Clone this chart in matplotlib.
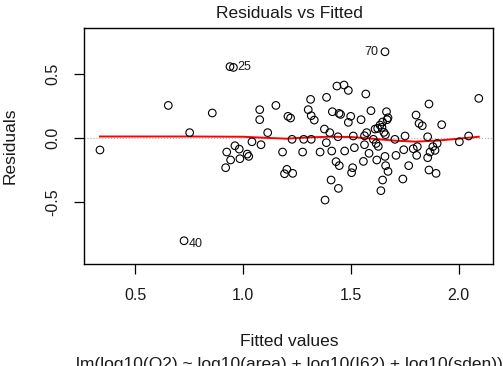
import matplotlib
matplotlib.use("Agg")
from matplotlib import pyplot as plt
import numpy as np

# fitted values and residuals
fitted = [0.336, 0.653, 0.726, 0.752, 0.857, 0.939, 0.955, 0.924, 0.919, 0.942,
          0.962, 0.982, 0.985, 1.019, 1.026, 1.041, 1.077, 1.077, 1.083, 1.114,
          1.152, 1.183, 1.192, 1.203, 1.208, 1.220, 1.227, 1.230, 1.276, 1.281,
          1.302, 1.313, 1.316, 1.330, 1.316, 1.357, 1.377, 1.380, 1.387, 1.386,
          1.402, 1.408, 1.411, 1.414, 1.431, 1.435, 1.440, 1.442, 1.445, 1.452,
          1.446, 1.468, 1.471, 1.488, 1.488, 1.499, 1.503, 1.511, 1.508, 1.516,
          1.547, 1.558, 1.563, 1.563, 1.569, 1.573, 1.584, 1.593, 1.604, 1.612,
          1.617, 1.620, 1.624, 1.627, 1.635, 1.639, 1.644, 1.647, 1.647, 1.653,
          1.658, 1.658, 1.660, 1.661, 1.665, 1.668, 1.672, 1.672, 1.704, 1.709,
          1.741, 1.745, 1.751, 1.768, 1.789, 1.802, 1.805, 1.808, 1.816, 1.831,
          1.856, 1.856, 1.862, 1.862, 1.867, 1.880, 1.890, 1.895, 1.900, 1.921,
          2.003, 2.046, 2.093]
resid = [-0.093, 0.254, -0.800, 0.042, 0.195, 0.556, 0.550, -0.109, -0.231, -0.171,
         -0.060, -0.086, -0.161, -0.125, -0.143, -0.029, 0.221, 0.143, -0.052, 0.042,
         0.254, -0.109, -0.278, -0.244, 0.169, 0.156, -0.010, -0.275, -0.109, -0.010,
         0.221, 0.301, 0.174, 0.140, -0.010, -0.109, 0.070, -0.483, 0.317, -0.036,
         0.042, -0.327, -0.101, 0.205, -0.184, 0.405, 0.010, -0.392, 0.192, 0.184,
         -0.215, 0.413, -0.101, 0.371, 0.122, 0.169, -0.270, 0.016, -0.231, -0.075,
         0.143, -0.182, -0.052, 0.018, 0.343, 0.042, -0.119, 0.213, -0.010, 0.070,
         -0.042, -0.171, 0.075, -0.065, 0.101, -0.410, 0.083, -0.327, 0.125, 0.044,
         0.672, -0.143, 0.026, -0.215, 0.205, 0.143, -0.260, 0.158, -0.010, -0.135,
         -0.319, -0.091, 0.016, -0.215, -0.083, 0.179, -0.135, -0.067, 0.114, 0.096,
         0.010, -0.153, 0.265, -0.249, -0.109, -0.067, -0.096, -0.275, -0.042, 0.104,
         -0.029, 0.016, 0.309]

# red smoother
smooth_x = [0.336, 0.5, 0.75, 1.0, 1.1, 1.2, 1.3, 1.4, 1.5, 1.6, 1.7, 1.8, 1.9, 2.0, 2.093]
smooth_y = [0.012, 0.012, 0.012, 0.010, 0.002, -0.005, 0.005, 0.010, 0.008, -0.005,
            -0.020, -0.028, -0.020, -0.005, 0.010]

# labelled points: (index into the arrays, label, side)
outliers = [(6, '25', 'right'), (2, '40', 'right'), (80, '70', 'left')]

xticks = [0.5, 1.0, 1.5, 2.0]
yticks = [-0.5, 0.0, 0.5]

plt.rcParams['font.family'] = ['Liberation Sans', 'DejaVu Sans']
txt = '#1a1a1a'

fig = plt.figure(figsize=(5.03, 3.66), dpi=100)
ax = fig.add_axes([84 / 503, 1 - 264 / 366, 409 / 503, 236 / 366])

ax.axhline(0, color='0.7', ls=':', lw=0.8, zorder=1)
ax.plot(smooth_x, smooth_y, color='red', lw=1.4, zorder=2)
ax.scatter(fitted, resid, s=30, facecolors='none', edgecolors='black', linewidths=0.8, zorder=3)

for i, lab, side in outliers:
    if side == 'right':
        ax.annotate(lab, (fitted[i], resid[i]), xytext=(3, -2 if resid[i] < 0 else 0),
                    textcoords='offset points', ha='left', va='center', fontsize=9, color=txt)
    else:
        ax.annotate(lab, (fitted[i], resid[i]), xytext=(-5, 0),
                    textcoords='offset points', ha='right', va='center', fontsize=9, color=txt)

ax.set_xlim(0.262, 2.159)
ax.set_ylim(-0.981, 0.857)
ax.set_xticks(xticks)
ax.set_xticklabels([f'{t:.1f}' for t in xticks])
ax.set_yticks(yticks)
ax.set_yticklabels([f'{t:.1f}' for t in yticks], rotation=90, va='center')
ax.tick_params(direction='out', length=7, width=0.9, pad=10, labelsize=11.5, labelcolor=txt)
for sp in ax.spines.values():
    sp.set_linewidth(1.0)

fig.text(289 / 503, 1 - 13 / 366, 'Residuals vs Fitted', ha='center', va='center', fontsize=12.5, color=txt)
fig.text(289 / 503, 1 - 342 / 366, 'Fitted values', ha='center', va='center', fontsize=12.5, color=txt)
# the reference itself shows this caption clipped at the bottom edge
fig.text(289 / 503, 1 - 357 / 366, 'lm(log10(O2) ~ log10(area) + log10(I62) + log10(sden))',
         ha='center', va='top', fontsize=12.5, color=txt)
fig.text(10 / 503, 1 - 146 / 366, 'Residuals', ha='center', va='center', rotation=90, fontsize=12.5, color=txt)

fig.savefig('out.png', dpi=100)
